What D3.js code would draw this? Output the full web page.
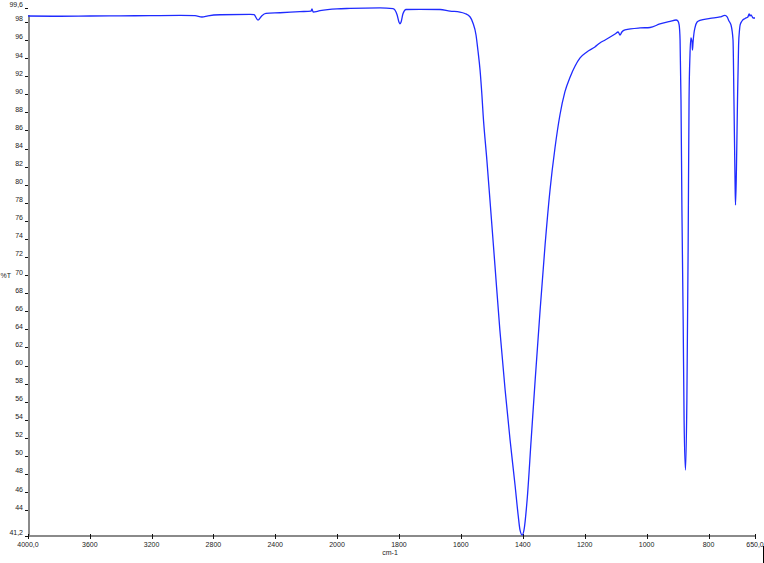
<!DOCTYPE html>
<html>
<head>
<meta charset="utf-8">
<script src="https://cdn.jsdelivr.net/npm/d3@7"></script>
<style>
  html, body { margin: 0; padding: 0; background: #fff; }
  svg { display: block; }
  text { font-family: "Liberation Sans", Arial, sans-serif; font-size: 7px; fill: #222; }
</style>
</head>
<body>
<svg id="chart" width="764" height="563"></svg>
<script>
// ---- data (wavenumber cm-1, %T) ----
const wavenumbers = [
  4000, 3793, 3599, 3405, 3210, 3016, 2919, 2874, 2835, 2757,
  2563, 2537, 2511, 2486, 2460, 2369, 2240, 2168, 2162, 2155,
  2110, 2000, 1958, 1861, 1819, 1806, 1800, 1797, 1793, 1787,
  1777, 1732, 1667, 1635, 1603, 1587, 1570, 1561, 1551, 1545,
  1538, 1532, 1528, 1516, 1506, 1490, 1474, 1457, 1441, 1425,
  1415, 1409, 1402, 1396, 1386, 1373, 1360, 1344, 1328, 1312,
  1296, 1280, 1264, 1247, 1231, 1215, 1193, 1167, 1151, 1134,
  1102, 1092, 1086, 1080, 1070, 1021, 989, 957, 924, 905,
  899, 895, 892, 889, 886, 882, 879, 874.5, 870, 866,
  863, 860, 857, 853.5, 852, 850, 847, 844, 837, 828,
  795, 763, 747, 740, 734, 727.5, 721, 718, 714.5, 713,
  710, 706.5, 703, 700, 698, 692, 682, 673, 669, 666,
  663, 656, 650
];
const transmittance = [
  98.66, 98.63, 98.66, 98.68, 98.70, 98.72, 98.70, 98.55, 98.68, 98.80,
  98.85, 98.80, 98.20, 98.70, 98.95, 99.02, 99.14, 99.20, 99.45, 99.10,
  99.25, 99.45, 99.50, 99.55, 99.48, 98.80, 98.00, 97.80, 98.00, 98.90,
  99.38, 99.40, 99.38, 99.20, 99.10, 98.94, 98.55, 97.89, 96.56, 94.90,
  92.69, 89.92, 87.71, 82.73, 78.31, 71.12, 63.93, 57.29, 51.76, 46.78,
  43.47, 41.81, 41.25, 41.81, 45.12, 51.76, 58.40, 66.14, 73.33, 79.42,
  84.06, 87.71, 90.26, 91.92, 93.13, 94.02, 94.68, 95.23, 95.68, 96.01,
  96.67, 96.89, 96.56, 96.89, 97.12, 97.34, 97.39, 97.78, 98.06, 98.22,
  98.11, 97.67, 96.01, 89.37, 77.20, 65.04, 53.97, 48.44, 56.19, 72.78,
  89.37, 94.35, 96.23, 95.79, 94.90, 95.79, 96.78, 97.34, 98.00, 98.17,
  98.39, 98.55, 98.72, 98.55, 98.11, 97.67, 96.01, 89.37, 80.52, 77.76,
  81.63, 89.37, 95.46, 97.12, 97.67, 98.11, 98.39, 98.55, 98.88, 98.66,
  98.77, 98.44, 98.44
];
const xTickValues = [4000, 3600, 3200, 2800, 2400, 2000, 1800, 1600, 1400, 1200, 1000, 800, 650];
const xTickLabels = ["4000,0", "3600", "3200", "2800", "2400", "2000", "1800", "1600", "1400", "1200", "1000", "800", "650,0"];
const yTickValues = [99.6, 98, 96, 94, 92, 90, 88, 86, 84, 82, 80, 78, 76, 74, 72, 70, 68, 66, 64, 62, 60, 58, 56, 54, 52, 50, 48, 46, 44, 41.2];
const yTickLabels = ["99,6", "98", "96", "94", "92", "90", "88", "86", "84", "82", "80", "78", "76", "74", "72", "70", "68", "66", "64", "62", "60", "58", "56", "54", "52", "50", "48", "46", "44", "41,2"];
const xTitle = "cm-1";
const yTitle = "%T";

// ---- scales (split x scale at 2000 cm-1, as in the instrument plot) ----
const svg = d3.select("#chart");
const x = d3.scaleLinear().domain([4000, 2000, 650]).range([28, 337, 755]);
const y = d3.scaleLinear().domain([41.2, 99.6]).range([535.5, 7.5]);
const xAxisY = 536, yAxisX = 29;

// ---- axes ----
const axisColor = "#8a8a8a";
// y axis
const gy = svg.append("g").attr("transform", `translate(${yAxisX},0)`);
gy.append("line").attr("x1", 0).attr("x2", 0).attr("y1", 15).attr("y2", xAxisY + 1)
  .attr("stroke", axisColor).attr("stroke-width", 2);
gy.selectAll("line.tick").data(yTickValues).join("line").attr("class", "tick")
  .attr("x1", -4).attr("x2", -1).attr("y1", d => Math.round(y(d)) + 0.5).attr("y2", d => Math.round(y(d)) + 0.5)
  .attr("stroke", "#111").attr("stroke-width", 1);
gy.selectAll("text").data(yTickValues).join("text")
  .attr("x", -6).attr("y", d => y(d) - 3).attr("dy", "0.35em")
  .attr("text-anchor", "end")
  .text((d, i) => yTickLabels[i]);

// x axis
const gx = svg.append("g").attr("transform", `translate(0,${xAxisY})`);
gx.append("line").attr("x1", yAxisX - 1).attr("x2", x(650)).attr("y1", 0).attr("y2", 0)
  .attr("stroke", axisColor).attr("stroke-width", 2);
gx.selectAll("line.tick").data(xTickValues).join("line").attr("class", "tick")
  .attr("x1", d => Math.round(x(d)) + 0.5).attr("x2", d => Math.round(x(d)) + 0.5)
  .attr("y1", -2).attr("y2", 3)
  .attr("stroke", "#111").attr("stroke-width", 1);
gx.selectAll("text").data(xTickValues).join("text")
  .attr("x", d => x(d)).attr("y", 9).attr("dy", "0.35em")
  .attr("text-anchor", "middle")
  .text((d, i) => xTickLabels[i]);

// titles
svg.append("text").attr("x", 390).attr("y", 553).attr("dy", "0.35em")
  .attr("text-anchor", "middle").text(xTitle);
svg.append("text").attr("x", 0.5).attr("y", 276).attr("dy", "0.35em")
  .attr("text-anchor", "start").text(yTitle);

// small black marker at lower right corner (as in reference)
svg.append("line").attr("x1", 763.5).attr("x2", 763.5).attr("y1", 546).attr("y2", 563)
  .attr("stroke", "#000").attr("stroke-width", 1);

// ---- spectrum ----
const data = wavenumbers.map((w, i) => ({ w, t: transmittance[i] }));
const line = d3.line().x(d => x(d.w)).y(d => y(d.t)).curve(d3.curveMonotoneX);
svg.append("path").datum(data)
  .attr("d", line)
  .attr("fill", "none")
  .attr("stroke", "#1f2bff")
  .attr("stroke-width", 1.3)
  .attr("stroke-linejoin", "round");
</script>
</body>
</html>
